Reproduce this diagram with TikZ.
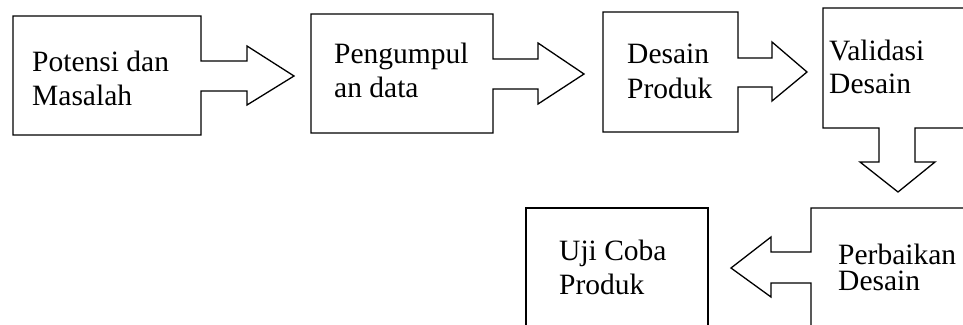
\documentclass[tikz,border=0pt]{standalone}
\usepackage{fontspec}
\setmainfont{Liberation Serif}
\begin{document}
\begin{tikzpicture}[x=1pt,y=-1pt,
  outline/.style={draw=black,line width=1.3pt,line join=miter,fill=white},
  label/.style={anchor=base west,inner sep=0pt,font=\fontsize{29.5}{34}\selectfont}]
\useasboundingbox (0,0) rectangle (963,324);
\clip (0,0) rectangle (963,324);

% Potensi dan Masalah, with its right-pointing arrow
\draw[outline] (13,16) -- (201,16) -- (201,61) -- (247,61) -- (247,46) -- (294,76)
  -- (247,105) -- (247,91) -- (201,91) -- (201,135) -- (13,135) -- cycle;
% Pengumpulan data
\draw[outline] (311,14) -- (493,14) -- (493,59) -- (538,59) -- (538,43) -- (584,74)
  -- (538,104) -- (538,89) -- (493,89) -- (493,133) -- (311,133) -- cycle;
% Desain Produk
\draw[outline] (603,12) -- (738,12) -- (738,58) -- (772,58) -- (772,42) -- (807,72)
  -- (772,101) -- (772,87) -- (738,87) -- (738,132) -- (603,132) -- cycle;
% Validasi Desain, arrow pointing down
\draw[outline] (823,8) -- (975,8) -- (975,128) -- (915,128) -- (915,162) -- (935,162)
  -- (898,192) -- (860,162) -- (879,162) -- (879,128) -- (823,128) -- cycle;
% Uji Coba Produk
\draw[outline] (526,208) -- (708,208) -- (708,335) -- (526,335) -- cycle;
% Perbaikan Desain, arrow pointing left
\draw[outline] (811,208) -- (975,208) -- (975,335) -- (811,335) -- (811,283) -- (771,283)
  -- (771,297) -- (731,268) -- (771,237) -- (771,252) -- (811,252) -- cycle;

\node[label] (t1a) at (32,71) {Potensi dan};
\node[label] (t1b) at (32,105) {Masalah};
\node[label] (t2a) at (334,63) {Pengumpul};
\node[label] (t2b) at (334,97) {an data};
\node[label] (t3a) at (627,63) {Desain};
\node[label] (t3b) at (627,98) {Produk};
\node[label] (t4a) at (829,60) {Validasi};
\node[label] (t4b) at (829,93) {Desain};
\node[label] (t5a) at (559,260) {Uji Coba};
\node[label] (t5b) at (559,294) {Produk};
\node[label] (t6a) at (838,264) {Perbaikan};
\node[label] (t6b) at (838,290) {Desain};
\end{tikzpicture}
\end{document}
